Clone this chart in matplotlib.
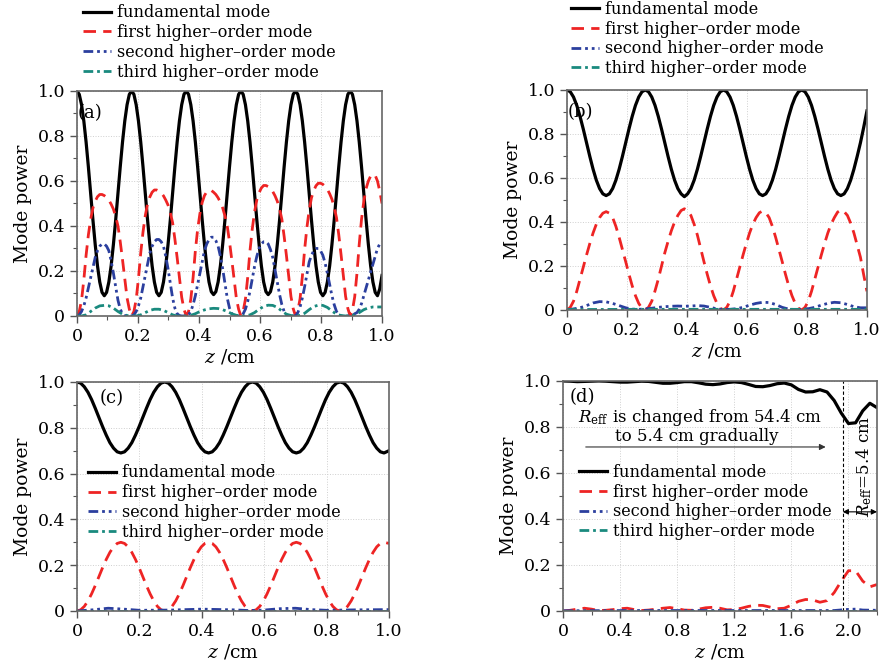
import numpy as np
import matplotlib
matplotlib.use("Agg")
import matplotlib.pyplot as plt
from matplotlib.ticker import MultipleLocator, FuncFormatter

plt.rcParams["font.family"] = ["DejaVu Serif"]
plt.rcParams["mathtext.fontset"] = "dejavuserif"

labels = ["fundamental mode", "first higher\u2013order mode",
          "second higher\u2013order mode", "third higher\u2013order mode"]

# ---- panel (a): z = 0..1 cm
z_a = np.linspace(0, 1.0, 135)
fund_a = [
    1.0, 0.985, 0.939, 0.867, 0.773, 0.663, 0.545, 0.427, 0.318, 0.223, 0.151, 0.105,
    0.09, 0.105, 0.151, 0.223, 0.318, 0.427, 0.545, 0.663, 0.773, 0.867, 0.939, 0.985,
    1.0, 0.985, 0.939, 0.867, 0.773, 0.663, 0.545, 0.427, 0.318, 0.223, 0.151, 0.105,
    0.09, 0.105, 0.151, 0.223, 0.318, 0.427, 0.545, 0.663, 0.773, 0.867, 0.939, 0.985,
    1.0, 0.985, 0.939, 0.867, 0.773, 0.663, 0.545, 0.427, 0.318, 0.223, 0.151, 0.108,
    0.095, 0.108, 0.151, 0.223, 0.318, 0.427, 0.545, 0.663, 0.773, 0.867, 0.939, 0.985,
    1.0, 0.985, 0.939, 0.867, 0.773, 0.663, 0.545, 0.427, 0.318, 0.223, 0.151, 0.108,
    0.095, 0.108, 0.151, 0.223, 0.318, 0.427, 0.545, 0.663, 0.773, 0.867, 0.939, 0.985,
    1.0, 0.985, 0.939, 0.867, 0.773, 0.663, 0.545, 0.427, 0.318, 0.223, 0.151, 0.105,
    0.09, 0.105, 0.151, 0.223, 0.318, 0.427, 0.545, 0.663, 0.773, 0.867, 0.939, 0.985,
    1.0, 0.985, 0.939, 0.867, 0.773, 0.663, 0.545, 0.427, 0.318, 0.223, 0.151, 0.105,
    0.09, 0.12, 0.18,
]
first_a = [
    0.0, 0.02, 0.07, 0.16, 0.27, 0.36, 0.43, 0.48, 0.51, 0.53, 0.54, 0.54,
    0.535, 0.527, 0.515, 0.497, 0.475, 0.442, 0.40, 0.33, 0.25, 0.165, 0.08, 0.03,
    0.0, 0.02, 0.073, 0.166, 0.28, 0.373, 0.446, 0.498, 0.529, 0.55, 0.56, 0.56,
    0.555, 0.547, 0.534, 0.515, 0.493, 0.458, 0.415, 0.342, 0.259, 0.171, 0.083, 0.03,
    0.0, 0.02, 0.075, 0.17, 0.29, 0.385, 0.455, 0.505, 0.535, 0.552, 0.56, 0.558,
    0.55, 0.54, 0.525, 0.505, 0.48, 0.445, 0.40, 0.33, 0.25, 0.165, 0.08, 0.03,
    0.0, 0.021, 0.075, 0.172, 0.29, 0.387, 0.462, 0.516, 0.548, 0.569, 0.58, 0.58,
    0.575, 0.566, 0.553, 0.534, 0.51, 0.475, 0.43, 0.354, 0.269, 0.177, 0.086, 0.032,
    0.0, 0.022, 0.077, 0.175, 0.295, 0.393, 0.47, 0.525, 0.557, 0.579, 0.59, 0.59,
    0.585, 0.576, 0.563, 0.543, 0.519, 0.483, 0.437, 0.361, 0.273, 0.18, 0.087, 0.033,
    0.0, 0.025, 0.085, 0.19, 0.32, 0.43, 0.51, 0.566, 0.60, 0.622, 0.63, 0.625,
    0.60, 0.555, 0.50,
]
second_a = [
    0.0, 0.005, 0.02, 0.045, 0.08, 0.125, 0.17, 0.215, 0.26, 0.29, 0.31, 0.32,
    0.32, 0.31, 0.29, 0.245, 0.19, 0.13, 0.07, 0.03, 0.01, 0.002, 0.0, 0.0,
    0.0, 0.005, 0.02, 0.045, 0.08, 0.13, 0.18, 0.23, 0.28, 0.31, 0.33, 0.34,
    0.34, 0.33, 0.31, 0.265, 0.21, 0.145, 0.08, 0.035, 0.01, 0.002, 0.0, 0.0,
    0.0, 0.005, 0.02, 0.05, 0.09, 0.14, 0.19, 0.24, 0.29, 0.32, 0.34, 0.35,
    0.35, 0.335, 0.31, 0.265, 0.21, 0.145, 0.08, 0.035, 0.01, 0.002, 0.0, 0.0,
    0.0, 0.01, 0.03, 0.065, 0.11, 0.165, 0.22, 0.265, 0.30, 0.32, 0.33, 0.33,
    0.32, 0.295, 0.26, 0.205, 0.15, 0.095, 0.05, 0.02, 0.005, 0.0, 0.0, 0.0,
    0.0, 0.015, 0.04, 0.08, 0.13, 0.185, 0.24, 0.27, 0.29, 0.30, 0.30, 0.29,
    0.27, 0.235, 0.19, 0.14, 0.09, 0.05, 0.02, 0.005, 0.0, 0.0, 0.0, 0.0,
    0.0, 0.0, 0.01, 0.015, 0.03, 0.055, 0.09, 0.125, 0.16, 0.195, 0.23, 0.265,
    0.30, 0.32, 0.33,
]
z_a3 = np.linspace(0, 1.0, 68)
third_a = [
    0.0, 0.0, 0.005, 0.02, 0.035, 0.045, 0.047, 0.045, 0.035, 0.02, 0.008, 0.002,
    0.0, 0.0, 0.005, 0.015, 0.025, 0.03, 0.03, 0.025, 0.015, 0.005, 0.0, 0.0,
    0.0, 0.003, 0.01, 0.02, 0.027, 0.032, 0.034, 0.033, 0.028, 0.02, 0.01, 0.003,
    0.0, 0.0, 0.005, 0.015, 0.03, 0.042, 0.048, 0.047, 0.038, 0.022, 0.008, 0.002,
    0.0, 0.003, 0.012, 0.028, 0.042, 0.048, 0.047, 0.038, 0.022, 0.008, 0.002, 0.0,
    0.0, 0.005, 0.015, 0.028, 0.036, 0.04, 0.04, 0.04,
]

# ---- panel (b): z = 0..1 cm
z_b = np.linspace(0, 1.0, 93)
fund_b = [
    1.0, 0.992, 0.968, 0.93, 0.88, 0.822, 0.76, 0.698, 0.64, 0.59, 0.552, 0.528,
    0.52, 0.528, 0.552, 0.59, 0.64, 0.698, 0.76, 0.822, 0.88, 0.93, 0.968, 0.992,
    1.0, 0.992, 0.968, 0.93, 0.88, 0.822, 0.76, 0.698, 0.64, 0.59, 0.552, 0.528,
    0.515, 0.528, 0.552, 0.59, 0.64, 0.698, 0.76, 0.822, 0.88, 0.93, 0.968, 0.992,
    1.0, 0.992, 0.968, 0.93, 0.88, 0.822, 0.76, 0.698, 0.64, 0.59, 0.552, 0.528,
    0.52, 0.528, 0.552, 0.59, 0.64, 0.698, 0.76, 0.822, 0.88, 0.93, 0.968, 0.992,
    1.0, 0.992, 0.968, 0.93, 0.88, 0.822, 0.76, 0.698, 0.64, 0.59, 0.552, 0.528,
    0.52, 0.528, 0.552, 0.59, 0.64, 0.698, 0.76, 0.83, 0.905,
]
first_b = [
    0.0, 0.012, 0.04, 0.085, 0.14, 0.195, 0.25, 0.302, 0.35, 0.39, 0.42, 0.44,
    0.447, 0.44, 0.42, 0.38, 0.33, 0.275, 0.22, 0.163, 0.11, 0.065, 0.03, 0.008,
    0.0, 0.012, 0.04, 0.087, 0.14, 0.2, 0.26, 0.312, 0.36, 0.4, 0.43, 0.452,
    0.46, 0.452, 0.43, 0.39, 0.34, 0.28, 0.22, 0.163, 0.11, 0.065, 0.03, 0.008,
    0.0, 0.012, 0.04, 0.085, 0.14, 0.195, 0.25, 0.302, 0.35, 0.39, 0.42, 0.442,
    0.45, 0.442, 0.42, 0.38, 0.33, 0.275, 0.22, 0.163, 0.11, 0.065, 0.03, 0.008,
    0.0, 0.012, 0.04, 0.085, 0.14, 0.195, 0.25, 0.302, 0.35, 0.39, 0.42, 0.445,
    0.455, 0.447, 0.43, 0.395, 0.35, 0.295, 0.24, 0.16, 0.085,
]
z_b2 = np.linspace(0, 1.0, 47)
second_b = [
    0.0, 0.005, 0.01, 0.02, 0.032, 0.038, 0.037, 0.03, 0.02, 0.01, 0.004, 0.003,
    0.005, 0.008, 0.012, 0.015, 0.017, 0.018, 0.017, 0.018, 0.02, 0.018, 0.012, 0.005,
    0.002, 0.003, 0.006, 0.012, 0.022, 0.03, 0.035, 0.034, 0.025, 0.012, 0.004, 0.002,
    0.003, 0.006, 0.012, 0.022, 0.03, 0.035, 0.033, 0.025, 0.015, 0.01, 0.01,
]
z_b3 = [0.0, 0.25, 0.5, 0.75, 1.0]
third_b = [0.002, 0.003, 0.003, 0.003, 0.003]

# ---- panel (c): z = 0..1 cm
z_c = np.append(np.linspace(0, 0.984, 85), 1.0)
fund_c = [
    1.0, 0.995, 0.979, 0.955, 0.923, 0.885, 0.845, 0.805, 0.768, 0.735, 0.711, 0.695,
    0.69, 0.695, 0.711, 0.735, 0.768, 0.805, 0.845, 0.885, 0.923, 0.955, 0.979, 0.995,
    1.0, 0.995, 0.979, 0.955, 0.923, 0.885, 0.845, 0.805, 0.768, 0.735, 0.711, 0.695,
    0.69, 0.695, 0.711, 0.735, 0.768, 0.805, 0.845, 0.885, 0.923, 0.955, 0.979, 0.995,
    1.0, 0.995, 0.979, 0.955, 0.923, 0.885, 0.845, 0.805, 0.768, 0.735, 0.711, 0.695,
    0.69, 0.695, 0.711, 0.735, 0.768, 0.805, 0.845, 0.885, 0.923, 0.955, 0.979, 0.995,
    1.0, 0.995, 0.979, 0.955, 0.923, 0.885, 0.845, 0.805, 0.768, 0.735, 0.711, 0.695,
    0.69, 0.70,
]
first_c = [
    0.0, 0.005, 0.02, 0.044, 0.075, 0.111, 0.15, 0.189, 0.225, 0.256, 0.28, 0.295,
    0.30, 0.295, 0.28, 0.256, 0.225, 0.189, 0.15, 0.111, 0.075, 0.044, 0.02, 0.005,
    0.0, 0.005, 0.02, 0.044, 0.075, 0.111, 0.15, 0.189, 0.225, 0.256, 0.28, 0.295,
    0.30, 0.295, 0.28, 0.256, 0.225, 0.189, 0.15, 0.111, 0.075, 0.044, 0.02, 0.005,
    0.0, 0.005, 0.02, 0.044, 0.075, 0.111, 0.15, 0.189, 0.225, 0.256, 0.28, 0.295,
    0.30, 0.295, 0.28, 0.256, 0.225, 0.189, 0.15, 0.111, 0.075, 0.044, 0.02, 0.005,
    0.0, 0.005, 0.02, 0.044, 0.075, 0.111, 0.15, 0.189, 0.225, 0.256, 0.28, 0.295,
    0.30, 0.295,
]
z_c2 = [0, 0.05, 0.1, 0.15, 0.2, 0.3, 0.4, 0.5, 0.55, 0.6, 0.65, 0.7, 0.75, 0.8, 0.9, 1.0]
second_c = [0, 0.005, 0.012, 0.008, 0.003, 0.004, 0.008, 0.005, 0.002, 0.004, 0.01,
            0.012, 0.006, 0.003, 0.005, 0.006]
z_c3 = [0.0, 0.5, 1.0]
third_c = [0.002, 0.002, 0.002]

# ---- panel (d): z = 0..2.2 cm, step 0.05
z_d = np.linspace(0, 2.2, 45)
fund_d = [
    1.0, 0.999, 0.997, 0.998, 0.999, 1.0, 0.999, 0.997, 0.995, 0.995,
    0.997, 0.999, 0.998, 0.994, 0.99, 0.99, 0.993, 0.997, 0.997, 0.992,
    0.986, 0.984, 0.987, 0.993, 0.996, 0.993, 0.985, 0.976, 0.975, 0.98,
    0.988, 0.991, 0.983, 0.963, 0.952, 0.953, 0.962, 0.952, 0.915, 0.86,
    0.815, 0.818, 0.87, 0.903, 0.884,
]
first_d = [
    0.0, 0.003, 0.008, 0.012, 0.008, 0.002, 0.003, 0.006, 0.01, 0.012,
    0.006, 0.002, 0.004, 0.008, 0.012, 0.015, 0.01, 0.004, 0.003, 0.008,
    0.014, 0.016, 0.012, 0.005, 0.006, 0.012, 0.02, 0.025, 0.024, 0.017,
    0.01, 0.012, 0.025, 0.042, 0.05, 0.048, 0.038, 0.045, 0.08, 0.13,
    0.175, 0.175, 0.13, 0.105, 0.115,
]
z_d2 = [0, 0.5, 1.0, 1.5, 1.9, 2.0, 2.05, 2.1, 2.2]
second_d = [0.001, 0.002, 0.002, 0.002, 0.002, 0.007, 0.008, 0.004, 0.003]
z_d3 = [0.0, 1.1, 2.2]
third_d = [0.001, 0.001, 0.001]

C_RED = "#ee2424"
C_BLUE = "#2b3f9e"
C_GREEN = "#1a8a7e"
LW = 2.0


def fmt(v, pos):
    return "0" if abs(v) < 1e-9 else f"{v:.1f}"


def draw(ax, zs, ys, xmax, xmajor, xminor):
    (z0, z1, z2, z3), (y0, y1, y2, y3) = zs, ys
    h = []
    h += ax.plot(z0, y0, color="black", lw=2.3, solid_joinstyle="round")
    h += ax.plot(z1, y1, color=C_RED, lw=LW, dashes=(4.5, 2.6))
    h += ax.plot(z2, y2, color=C_BLUE, lw=LW, dashes=(3.5, 1.4, 1, 1.4, 1, 1.4))
    h += ax.plot(z3, y3, color=C_GREEN, lw=LW, dashes=(3.5, 1.4, 1, 1.4))
    ax.set_xlim(0, xmax)
    ax.set_ylim(0, 1.0)
    ax.xaxis.set_major_locator(MultipleLocator(xmajor))
    ax.xaxis.set_minor_locator(MultipleLocator(xminor))
    ax.yaxis.set_major_locator(MultipleLocator(0.2))
    ax.yaxis.set_minor_locator(MultipleLocator(0.1))
    ax.xaxis.set_major_formatter(FuncFormatter(fmt))
    ax.yaxis.set_major_formatter(FuncFormatter(fmt))
    ax.tick_params(which="major", length=5, width=1, color="#555555", labelsize=12.5)
    ax.tick_params(which="minor", length=3, width=0.8, color="#555555")
    ax.grid(True, which="major", color="#cfcfcf", lw=0.7, ls=":")
    for s in ax.spines.values():
        s.set_color("#666666")
        s.set_linewidth(1.2)
    ax.set_xlabel("$z$ /cm", fontsize=13.5, labelpad=2)
    ax.set_ylabel("Mode power", fontsize=13.5, labelpad=4)
    return h


def leg(ax, h, x, y):
    ax.legend(h, labels, loc="upper left", bbox_to_anchor=(x, y), frameon=False,
              fontsize=11.6, handlelength=1.75, handletextpad=0.35, labelspacing=0.17,
              borderpad=0, borderaxespad=0)


fig = plt.figure(figsize=(8.88, 6.72), dpi=100)
ax_a = fig.add_axes([0.0867, 0.5298, 0.3435, 0.3348])
ax_b = fig.add_axes([0.6385, 0.5387, 0.3378, 0.3274])
ax_c = fig.add_axes([0.0867, 0.0908, 0.3514, 0.3408])
ax_d = fig.add_axes([0.634, 0.0908, 0.3536, 0.3423])

h = draw(ax_a, (z_a, z_a, z_a, z_a3), (fund_a, first_a, second_a, third_a), 1.0, 0.2, 0.1)
leg(ax_a, h, 0.02, 1.385)
ax_a.text(0.003, 0.9, "(a)", transform=ax_a.transAxes, fontsize=13, va="center")

h = draw(ax_b, (z_b, z_b, z_b2, z_b3), (fund_b, first_b, second_b, third_b), 1.0, 0.2, 0.1)
leg(ax_b, h, 0.013, 1.405)
ax_b.text(0.003, 0.9, "(b)", transform=ax_b.transAxes, fontsize=13, va="center")

h = draw(ax_c, (z_c, z_c, z_c2, z_c3), (fund_c, first_c, second_c, third_c), 1.0, 0.2, 0.1)
leg(ax_c, h, 0.035, 0.64)
ax_c.text(0.074, 0.93, "(c)", transform=ax_c.transAxes, fontsize=13, va="center")

h = draw(ax_d, (z_d, z_d, z_d2, z_d3), (fund_d, first_d, second_d, third_d), 2.2, 0.4, 0.2)
leg(ax_d, h, 0.05, 0.64)
ax_d.text(0.02, 0.93, "(d)", transform=ax_d.transAxes, fontsize=13, va="center")
ax_d.text(0.105, 0.84, "$R_{\\rm eff}$ is changed from 54.4 cm", fontsize=12, va="center")
ax_d.text(0.365, 0.76, "to 5.4 cm gradually", fontsize=12, va="center")
ax_d.annotate("", xy=(1.86, 0.713), xytext=(0.14, 0.713),
              arrowprops=dict(arrowstyle="-|>", lw=0.8, color="#333333", mutation_scale=9))
ax_d.axvline(1.96, color="black", lw=0.8, dashes=(3, 2))
ax_d.annotate("", xy=(2.2, 0.431), xytext=(1.96, 0.431),
              arrowprops=dict(arrowstyle="<|-|>", lw=0.8, color="black", mutation_scale=8,
                              shrinkA=0, shrinkB=0))
ax_d.text(2.11, 0.63, "$R_{\\rm eff}$=5.4 cm", rotation=90, fontsize=12,
          ha="center", va="center")

fig.savefig("out.png", dpi=100)
